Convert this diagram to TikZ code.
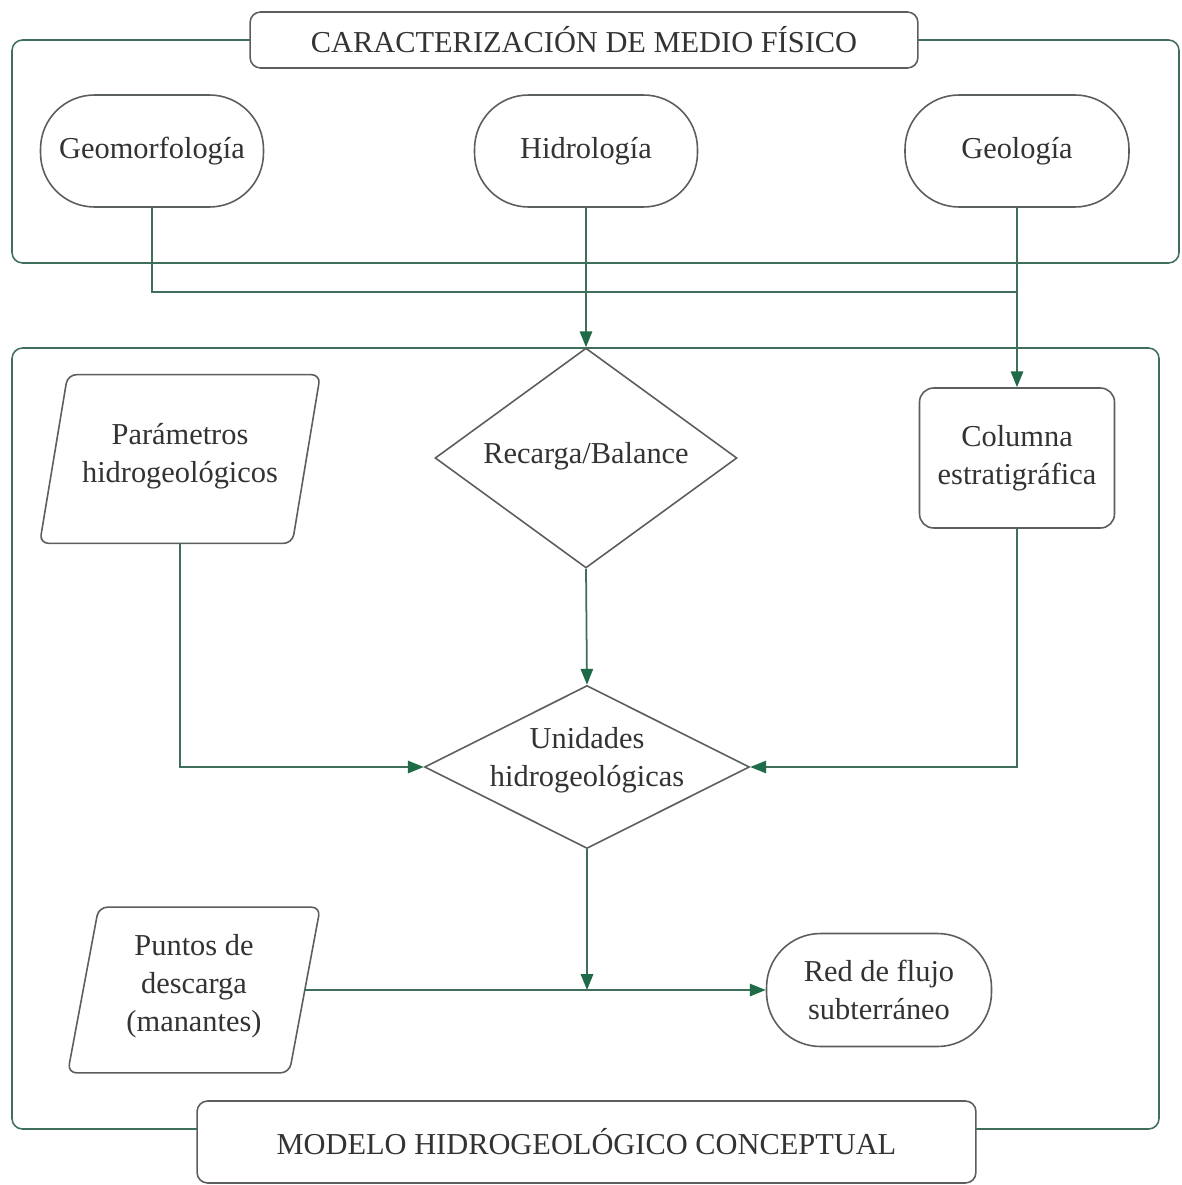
\documentclass[tikz,border=0pt]{standalone}
\usepackage{fontspec}
\setmainfont{Liberation Serif}
\usetikzlibrary{shapes.geometric,arrows.meta,calc}
\definecolor{lc}{HTML}{3F6F5A}
\definecolor{sc}{HTML}{5A5F5C}
\definecolor{ac}{HTML}{1F6B47}
\definecolor{tc}{HTML}{333333}
\begin{document}
\begin{tikzpicture}[x=0.02cm,y=-0.02cm,
  every node/.style={font=\fontsize{17.3}{21.6}\selectfont, text=tc, align=center},
  box/.style={draw=sc, line width=0.9pt, fill=white, rounded corners=6pt, inner sep=0pt},
  pill/.style={draw=sc, line width=0.9pt, fill=white, rounded corners=1.08cm, inner sep=0pt},
  dia/.style={diamond, draw=sc, line width=0.9pt, inner sep=0pt},
  ghost/.style={inner sep=0pt},
  para/.style={draw=sc, line width=0.9pt, rounded corners=5pt},
  frame/.style={draw=lc, line width=0.9pt, rounded corners=6pt},
  conn/.style={draw=lc, line width=1pt},
  arr/.style={conn, -{Triangle[length=9pt,width=7pt,color=ac]}}
]
\useasboundingbox (0,0) rectangle (1181,1185);
\fill[white] (0,0) rectangle (1181,1185);

% frames
\draw[frame] (12,40) rectangle (1179,263);
\draw[frame] (12,348) rectangle (1159,1129);

% titles
\node[box, minimum width=13.36cm, minimum height=1.12cm] (t1) at (584,40) {CARACTERIZACIÓN DE MEDIO FÍSICO};
\node[box, minimum width=15.58cm, minimum height=1.64cm] (t2) at (586.5,1142) {MODELO HIDROGEOLÓGICO CONCEPTUAL};

% top row
\node[pill, minimum width=4.46cm, minimum height=2.24cm] (geom) at (152,151) {Geomorfología};
\node[pill, minimum width=4.46cm, minimum height=2.24cm] (hid) at (586,151) {Hidrología};
\node[pill, minimum width=4.48cm, minimum height=2.24cm] (geol) at (1017,151) {Geología};

% middle
\node[dia, minimum width=6.04cm, minimum height=4.4cm] (rec) at (586,458) {};
\node (rect) at (586,456) {Recarga/Balance};

\node[box, rounded corners=8pt, minimum width=3.9cm, minimum height=2.8cm] (col) at (1017,458) {Columna\\estratigráfica};

\node[ghost, minimum width=5.6cm, minimum height=3.36cm] (par) at (180,459) {};
\draw[para] ($(par.north west)+(28,0)$) -- (par.north east) -- ($(par.south east)+(-28,0)$) -- (par.south west) -- cycle;
\node (part) at (180,456) {Parámetros\\hidrogeológicos};

\node[dia, minimum width=6.5cm, minimum height=3.26cm] (uni) at (587,767) {};
\node (unit) at (587,760) {Unidades\\hidrogeológicas};

% bottom
\node[ghost, minimum width=5.04cm, minimum height=3.3cm] (pun) at (194,990) {};
\draw[para] ($(pun.north west)+(31,0)$) -- (pun.north east) -- ($(pun.south east)+(-31,0)$) -- (pun.south west) -- cycle;
\node (punt) at (194,986) {Puntos de\\descarga\\(manantes)};

\node[pill, minimum width=4.5cm, minimum height=2.26cm] (red) at (879,990) {Red de flujo\\subterráneo};

% connectors
\coordinate (j) at ($(geol.south |- 0,292)$);
\draw[conn] (geom.south) |- (j);
\draw[arr] (hid.south) -- (rec.north);
\draw[arr] (geol.south) -- (col.north);
\draw[arr] (rec.south) -- (uni.north);
\draw[arr] (par.south) |- (uni.west);
\draw[arr] (col.south) |- (uni.east);
\coordinate (k) at (uni.south |- red.west);
\draw[arr] (uni.south) -- (k);
\draw[arr] ($(pun.east)+(-16,0)$) -- (red.west);
\end{tikzpicture}
\end{document}
